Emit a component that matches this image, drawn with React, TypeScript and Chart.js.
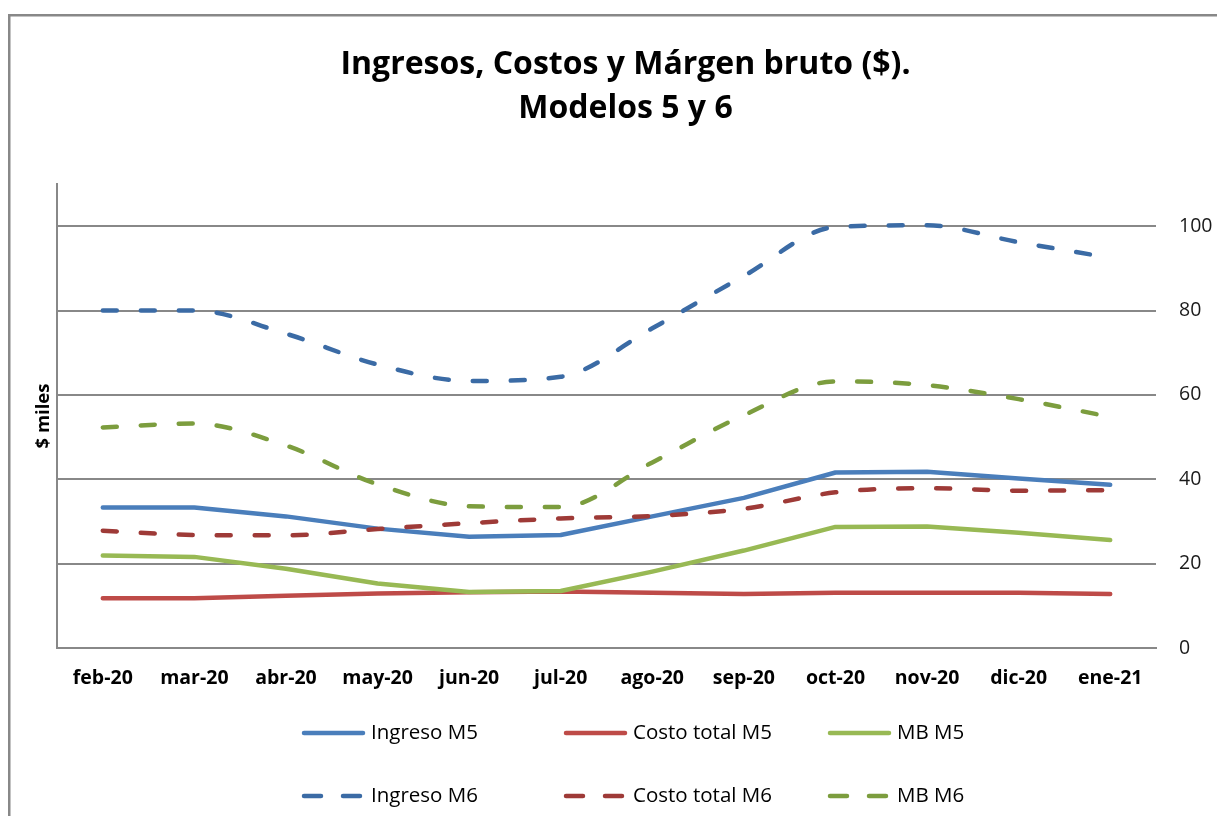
import React, { useEffect, useRef } from "react";
import { Chart, registerables } from "chart.js";

Chart.register(...registerables);

// ---------- data ----------
const categories = [
  "feb-20", "mar-20", "abr-20", "may-20", "jun-20", "jul-20",
  "ago-20", "sep-20", "oct-20", "nov-20", "dic-20", "ene-21",
];
const ingresoM5 = [33.3, 33.3, 31.2, 28.3, 26.4, 26.8, 31.2, 35.6, 41.6, 41.8, 40.2, 38.7];
const costoM5 = [11.8, 11.8, 12.4, 12.9, 13.2, 13.4, 13.1, 12.8, 13.1, 13.1, 13.1, 12.8];
const mbM5 = [21.9, 21.6, 18.8, 15.3, 13.3, 13.5, 18.1, 23.1, 28.7, 28.8, 27.3, 25.6];
const ingresoM6 = [80, 80, 74.5, 67.2, 63.3, 64.3, 75.8, 88.2, 99.8, 100.2, 96.2, 92.5];
const costoM6 = [27.8, 26.8, 26.7, 28.2, 29.6, 30.7, 31.3, 33.0, 36.9, 37.9, 37.3, 37.4];
const mbM6 = [52.3, 53.2, 48.0, 38.8, 33.6, 33.4, 44.0, 55.2, 63.2, 62.3, 59.0, 54.8];
const yTicks = [0, 20, 40, 60, 80, 100];
const seriesNames = ["Ingreso M5", "Costo total M5", "MB M5", "Ingreso M6", "Costo total M6", "MB M6"];
const titleLines = ["Ingresos, Costos y Márgen bruto ($).", "Modelos 5 y 6"];
const yTitle = "$ miles";

const FONT = "'Open Sans'";
const GRID = "#888888";
const DASH = [14, 24];
const LEGEND_DASH = [17, 22];

const framePlugin = {
  id: "frame",
  beforeDraw(chart: any) {
    const { ctx, width, height } = chart;
    ctx.save();
    ctx.fillStyle = "#ffffff";
    ctx.fillRect(0, 0, width, height);
    ctx.fillStyle = "#888888";
    ctx.fillRect(8, 14, width - 8, 2.5);
    ctx.fillRect(8, 14, 2.5, height - 14);
    ctx.restore();
  },
};

const legendPlugin = {
  id: "customLegend",
  afterDraw(chart: any) {
    const { ctx } = chart;
    const xs = [302, 564, 828];
    const ys = [733, 796];
    ctx.save();
    chart.data.datasets.forEach((ds: any, i: number) => {
      const x = xs[i % 3];
      const y = ys[Math.floor(i / 3)];
      const dashed = ds.borderDash && ds.borderDash.length > 0;
      ctx.beginPath();
      ctx.strokeStyle = ds.borderColor;
      ctx.lineWidth = ds.borderWidth;
      ctx.lineCap = "round";
      ctx.setLineDash(dashed ? LEGEND_DASH : []);
      ctx.moveTo(x + 2, y);
      ctx.lineTo(x + 61, y);
      ctx.stroke();
      ctx.setLineDash([]);
      ctx.fillStyle = "#000";
      ctx.font = `20.5px ${FONT}`;
      ctx.textBaseline = "middle";
      ctx.textAlign = "left";
      ctx.fillText(ds.label, x + 69, y);
    });
    ctx.restore();
  },
};

function makeDs(label: string, data: number[], color: string, dashed: boolean, order: number) {
  return {
    label,
    data,
    borderColor: color,
    backgroundColor: color,
    borderWidth: 4.5,
    borderDash: dashed ? DASH : [],
    borderCapStyle: "round",
    borderJoinStyle: "round",
    pointRadius: 0,
    pointHoverRadius: 0,
    fill: false,
    tension: dashed ? 0.4 : 0,
    cubicInterpolationMode: dashed ? "monotone" : "default",
    yAxisID: "y",
    xAxisID: "x",
    order,
  };
}

export default function App() {
  const ref = useRef<HTMLCanvasElement>(null);
  useEffect(() => {
    document.body.style.margin = "0";
    const chart = new Chart(ref.current as HTMLCanvasElement, {
      type: "line",
      data: {
        labels: categories,
        datasets: [
          makeDs(seriesNames[0], ingresoM5, "#4A7EBB", false, 6),
          makeDs(seriesNames[1], costoM5, "#BE4B48", false, 5),
          makeDs(seriesNames[2], mbM5, "#98B954", false, 4),
          makeDs(seriesNames[3], ingresoM6, "#3B6BA5", true, 3),
          makeDs(seriesNames[4], costoM6, "#9E3A37", true, 2),
          makeDs(seriesNames[5], mbM6, "#7C9D3E", true, 1),
        ] as any,
      },
      options: {
        animation: false,
        responsive: false,
        layout: { padding: { left: 34, right: 0, top: 0, bottom: 108 } },
        plugins: {
          legend: { display: false },
          tooltip: { enabled: false },
          title: {
            display: true,
            text: titleLines,
            color: "#000",
            font: { family: FONT, size: 32, weight: "bold", lineHeight: 1.375 },
            padding: { top: 43, bottom: 53 },
          },
        },
        scales: {
          x: {
            offset: true,
            grid: { display: false, drawTicks: false },
            border: { display: true, color: GRID, width: 2 },
            ticks: {
              color: "#000",
              font: { family: FONT, size: 19.5, weight: "bold" },
              padding: 19,
              maxRotation: 0,
              autoSkip: false,
            },
            afterFit: (s: any) => { s.height = 60; },
          },
          yL: {
            position: "left",
            min: 0,
            max: 110,
            ticks: { display: false },
            grid: { display: false, drawTicks: false },
            border: { display: true, color: GRID, width: 2 },
            title: {
              display: true,
              text: yTitle,
              color: "#000",
              font: { family: FONT, size: 18.5, weight: "bold", lineHeight: 1 },
              padding: { top: 0, bottom: 0 },
            },
            afterFit: (s: any) => { s.width = 23; },
          },
          y: {
            position: "right",
            min: 0,
            max: 110,
            afterBuildTicks: (s: any) => { s.ticks = yTicks.map((v) => ({ value: v })); },
            afterFit: (s: any) => { s.width = 61; },
            grid: { color: GRID, lineWidth: 2, drawTicks: false },
            border: { display: false },
            ticks: {
              color: "#1a1a1a",
              padding: 23,
              font: { family: FONT, size: 19.5 },
            },
          },
        } as any,
      },
      plugins: [framePlugin, legendPlugin],
    });
    return () => chart.destroy();
  }, []);
  return (
    <div style={{ width: 1217, height: 816 }}>
      <canvas ref={ref} width={1217} height={816} style={{ display: "block" }} />
    </div>
  );
}
